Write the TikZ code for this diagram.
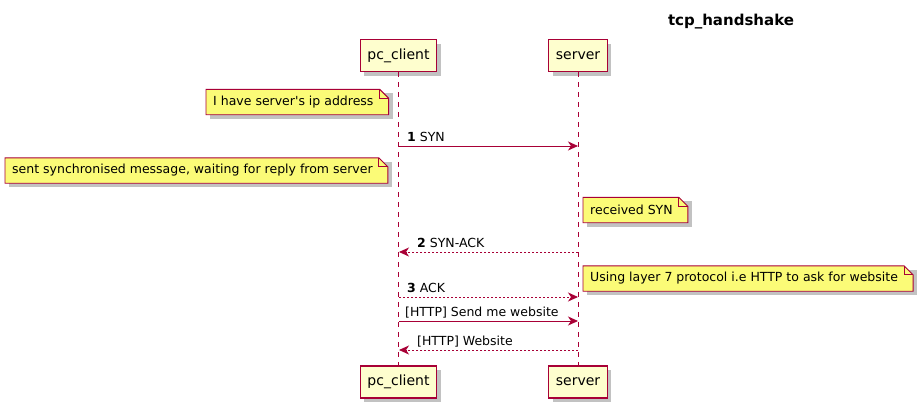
\documentclass[tikz,border=0pt]{standalone}
\usepackage{fontspec}
\setmainfont{DejaVu Sans}
\usetikzlibrary{arrows.meta,positioning,calc,shadows,backgrounds}
\definecolor{umlred}{HTML}{A80036}
\definecolor{partfill}{HTML}{FEFECE}
\definecolor{notefill}{HTML}{FBFB77}
\definecolor{shadowgray}{HTML}{A8A8A8}
\tikzset{
  >={Stealth[length=10pt,width=9pt,inset=3pt]},
  part/.style  = {draw=umlred, fill=partfill, line width=1.3pt, minimum height=32pt,
                  inner xsep=7pt, font=\fontsize{14}{16}\selectfont,
                  drop shadow={shadow xshift=4pt, shadow yshift=-4pt, fill=shadowgray, opacity=.7}},
  note/.style  = {inner xsep=7pt, inner ysep=3pt, minimum height=25pt, anchor=west,
                  font=\fontsize{12.5}{15}\selectfont, execute at end node={\hspace*{8pt}}},
  notebox/.style = {draw=umlred, fill=notefill, line width=.9pt},
  life/.style  = {umlred, line width=.9pt, dash pattern=on 5pt off 5pt},
  msg/.style   = {->, umlred, line width=.9pt},
  ret/.style   = {msg, dash pattern=on 2pt off 2pt},
  lbl/.style   = {anchor=base west, inner sep=0pt, font=\fontsize{12.5}{15}\selectfont},
  ttl/.style   = {font=\fontsize{15}{18}\selectfont\bfseries}
}
\newcommand{\notefold}[1]{%
  \begin{scope}[on background layer]
    \fill[shadowgray, opacity=.7] ($(#1.north west)+(4,4)$) rectangle ($(#1.south east)+(4,4)$);
    \filldraw[notebox] (#1.south west) -- (#1.north west) -- ($(#1.north east)+(-9,0)$)
      -- ($(#1.north east)+(0,9)$) -- (#1.south east) -- cycle;
    \draw[notebox, fill=none] ($(#1.north east)+(-9,0)$) |- ($(#1.north east)+(0,9)$);
  \end{scope}}

\begin{document}
\begin{tikzpicture}[x=1pt, y=-1pt]
\useasboundingbox (0,0) rectangle (921,410);

\node[ttl] (title) at (731,22) {tcp\_handshake};

% participants
\node[part] (cliTop) at (398.5,55.5) {pc\_client};
\node[part] (srvTop) at (578,55.5) {server};
\node[part] (cliBot) at (398.5,382) {pc\_client};
\node[part] (srvBot) at (578,382) {server};

\draw[life] (cliTop) -- (cliBot);
\draw[life] (srvTop) -- (srvBot);

% notes
\node[note] (nIp) at (206,102) {I have server\textquotesingle s ip address};
\notefold{nIp}
\node[note] (nSent) at (5,170.5) {sent synchronised message, waiting for reply from server};
\notefold{nSent}
\node[note] (nRecv) at (583,210) {received SYN};
\notefold{nRecv}
\node[note] (nHttp) at (583,278.5) {Using layer 7 protocol i.e HTTP to ask for website};
\notefold{nHttp}

% message ends on the lifelines
\foreach \n/\y in {1/146, 2/252, 3/297, 4/321, 5/350} {
  \coordinate (c\n) at (399,\y);
  \coordinate (s\n) at (578,\y);
}

\draw[msg] (c1) -- (s1);
\node[lbl] (l1) at ($(c1)+(8,-5)$) {\textbf{1} SYN};
\draw[ret] (s2) -- (c2);
\node[lbl] (l2) at ($(c2)+(18,-5)$) {\textbf{2} SYN-ACK};
\draw[ret] (c3) -- (s3);
\node[lbl] (l3) at ($(c3)+(8,-5)$) {\textbf{3} ACK};
\draw[msg] (c4) -- (s4);
\node[lbl] (l4) at ($(c4)+(6,-5)$) {[HTTP] Send me website};
\draw[ret] (s5) -- (c5);
\node[lbl] (l5) at ($(c5)+(18,-5)$) {[HTTP] Website};
\end{tikzpicture}
\end{document}
